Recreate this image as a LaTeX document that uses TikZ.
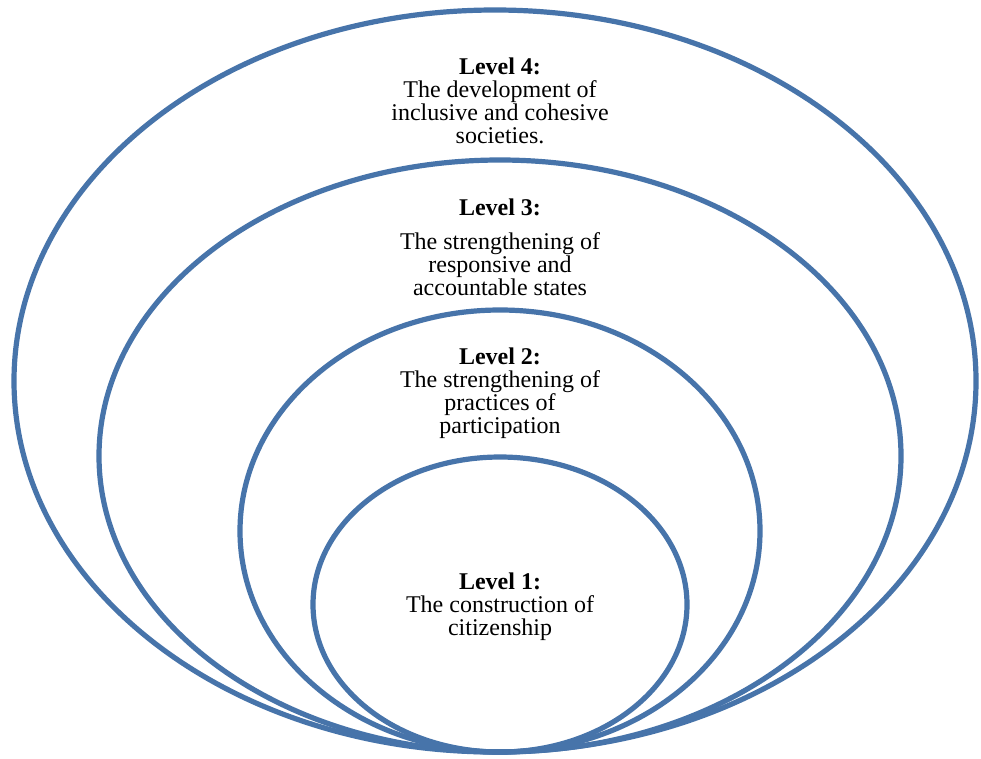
\documentclass[tikz,border=0pt]{standalone}
\usepackage{fontspec}
\setmainfont{Liberation Serif}
\definecolor{ringblue}{RGB}{71,116,170}
\begin{document}
\begin{tikzpicture}[x=1pt,y=-1pt,
  ring/.style={draw=ringblue,line width=5.2pt},
  lvl/.style={align=center,anchor=base,inner sep=0pt,font=\fontsize{24}{23}\selectfont}]
\useasboundingbox[fill=white] (0,0) rectangle (981,758);
\draw[ring] (495,381) ellipse [x radius=481pt, y radius=371pt];
\draw[ring] (500,456) ellipse [x radius=401pt, y radius=296pt];
\draw[ring] (500,531) ellipse [x radius=260pt, y radius=221pt];
\draw[ring] (500,604.5) ellipse [x radius=187pt, y radius=147.5pt];
\node[lvl] (l4) at (500,143) {\textbf{Level 4:}\\The development of\\inclusive and cohesive\\societies.};
\node[lvl] (l3) at (500,295) {\textbf{Level 3:}\\[11pt]The strengthening of\\responsive and\\accountable states};
\node[lvl] (l2) at (500,433) {\textbf{Level 2:}\\The strengthening of\\practices of\\participation};
\node[lvl] (l1) at (500,635) {\textbf{Level 1:}\\The construction of\\citizenship};
\end{tikzpicture}
\end{document}
